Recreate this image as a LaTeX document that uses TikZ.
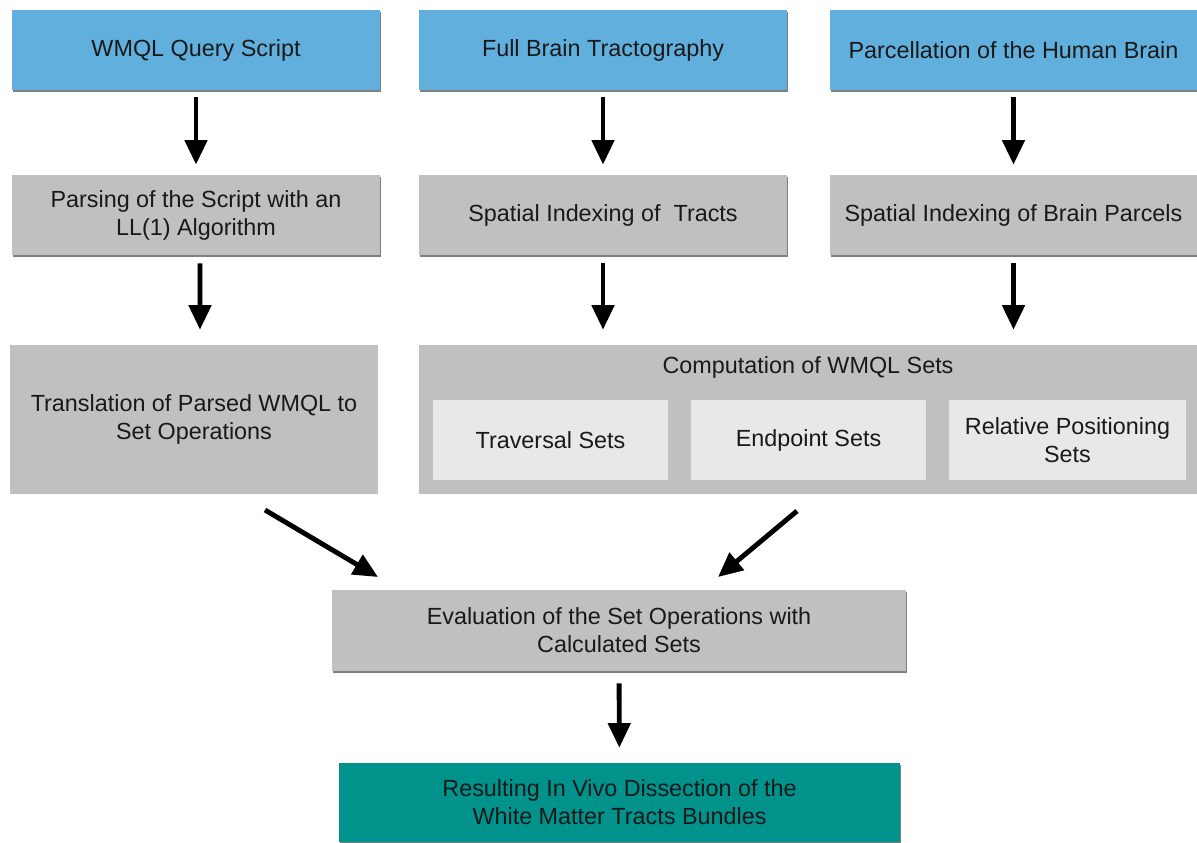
\documentclass[tikz,border=0pt]{standalone}
\usepackage{fontspec}
\setmainfont{Liberation Sans}
\usetikzlibrary{arrows.meta,positioning,shadows}
\definecolor{inputblue}{RGB}{96,175,221}
\definecolor{stepgray}{RGB}{192,192,192}
\definecolor{setgray}{RGB}{232,232,232}
\definecolor{resultteal}{RGB}{0,146,139}
\definecolor{textdark}{RGB}{25,25,25}

\begin{document}
\begin{tikzpicture}[x=0.02cm, y=-0.02cm,
    box/.style={rectangle, inner sep=0pt, align=center, text=textdark,
      font=\fontsize{13.3}{15.9}\selectfont},
    shade box/.style={box, drop shadow={shadow xshift=0.7pt, shadow yshift=-1.2pt, opacity=0.5, fill=black}},
    inputbox/.style={shade box, fill=inputblue, minimum width=7.36cm, minimum height=1.6cm},
    stepbox/.style={shade box, fill=stepgray, minimum width=7.36cm, minimum height=1.6cm},
    setbox/.style={box, fill=setgray, minimum height=1.6cm},
    flow/.style={line width=2.8pt, -{Triangle[length=14pt, width=12.5pt]}}]
    \useasboundingbox (0,0) rectangle (1197,842);

    % inputs
    \node[inputbox] (query)  at (196,50)    {WMQL Query Script};
    \node[inputbox] (tracto) at (603,50)    {Full Brain Tractography};
    \node[inputbox] (parcel) at (1013.5,50) {Parcellation of the Human Brain};

    % preprocessing
    \node[stepbox] (parse)  at (196,215)    {Parsing of the Script with an\\LL(1) Algorithm};
    \node[stepbox] (tindex) at (603,215)    {Spatial Indexing of \ Tracts};
    \node[stepbox] (pindex) at (1013.5,215) {Spatial Indexing of Brain Parcels};

    % translation and set computation
    \node[box, fill=stepgray, minimum width=7.36cm, minimum height=2.98cm] (trans) at (194,419.5)
      {Translation of Parsed WMQL to\\Set Operations};
    \node[box, fill=stepgray, minimum width=15.56cm, minimum height=2.98cm] (comp) at (808,419.5) {};
    \node[box] (comptitle) at (808,367) {Computation of WMQL Sets};
    \node[setbox, minimum width=4.7cm]  (trav)   at (550.5,440)  {Traversal Sets};
    \node[setbox, minimum width=4.7cm]  (endp)   at (808.5,440)  {Endpoint Sets};
    \node[setbox, minimum width=4.76cm] (relpos) at (1067.5,440) {Relative Positioning\\Sets};

    % evaluation and result
    \node[shade box, fill=stepgray, minimum width=11.48cm, minimum height=1.62cm] (eval) at (619,630.5)
      {Evaluation of the Set Operations with\\Calculated Sets};
    \node[shade box, fill=resultteal, minimum width=11.22cm, minimum height=1.58cm] (result) at (619.5,802.5)
      {Resulting In Vivo Dissection of the\\White Matter Tracts Bundles};

    % arrows
    \draw[flow, shorten <=4pt, shorten >=5.7pt] (query) -- (parse);
    \draw[flow, shorten <=4pt, shorten >=5.7pt] (tracto) -- (tindex);
    \draw[flow, shorten <=4pt, shorten >=5.7pt] (parcel.south) -- (pindex.north);
    \draw[flow, shorten <=4.5pt, shorten >=8.5pt] ([xshift=2.3pt]parse.south) -- ([xshift=3.4pt]trans.north);
    \draw[flow, shorten <=4.5pt, shorten >=8.5pt] (tindex.south) -- (tindex.south |- comp.north);
    \draw[flow, shorten <=4.5pt, shorten >=8.5pt] (pindex.south) -- (pindex.south |- comp.north);
    \coordinate (lstart) at (265,510);
    \coordinate (lend)   at (378,577);
    \coordinate (rstart) at (797,511);
    \coordinate (rend)   at (718,577);
    \draw[flow] (lstart) -- (lend);
    \draw[flow] (rstart) -- (rend);
    \draw[flow, shorten <=6.8pt, shorten >=8.5pt] (eval) -- (result);
\end{tikzpicture}
\end{document}
